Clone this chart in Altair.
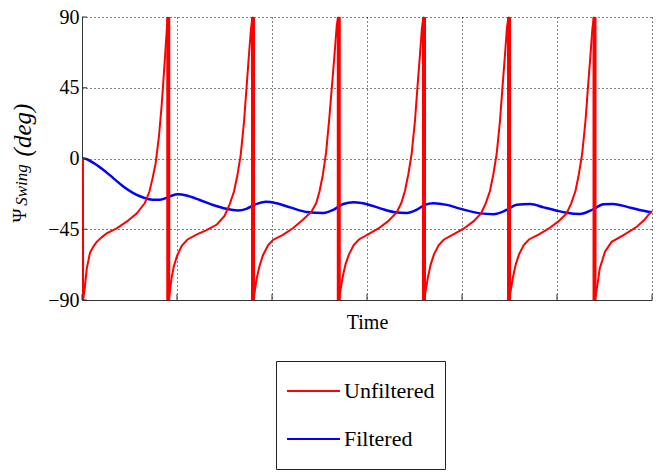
import altair as alt
import pandas as pd

# ---- data ----
red_t = [0.10, 0.12, 0.30, 0.50, 0.84, 1.20, 1.55, 2.10, 2.60, 3.65, 4.70, 5.75, 6.60, 7.10, 7.45, 7.75, 8.10, 8.40, 8.63, 8.85, 9.00, 9.08, 9.08,
         9.20, 9.40, 9.65, 10.00, 10.50, 11.10, 12.10, 13.10, 14.20, 15.00, 15.55, 16.00, 16.35, 16.70, 17.05, 17.32, 17.55, 17.78, 17.92, 18.00, 18.00,
         18.12, 18.40, 18.70, 19.05, 19.60, 20.10, 21.15, 22.20, 23.25, 24.15, 24.65, 25.00, 25.35, 25.70, 26.05, 26.35, 26.58, 26.82, 26.95, 27.03, 27.03,
         27.15, 27.45, 27.75, 28.10, 28.60, 29.15, 30.20, 31.20, 32.20, 33.10, 33.60, 34.00, 34.35, 34.70, 35.05, 35.32, 35.55, 35.78, 35.92, 36.00, 36.00,
         36.12, 36.40, 36.70, 37.05, 37.55, 38.10, 39.10, 40.20, 41.20, 42.00, 42.50, 42.95, 43.30, 43.65, 44.00, 44.27, 44.50, 44.73, 44.87, 44.95, 44.95,
         45.07, 45.35, 45.65, 46.00, 46.50, 47.05, 48.10, 49.15, 50.15, 51.00, 51.50, 51.95, 52.30, 52.65, 53.00, 53.27, 53.50, 53.73, 53.87, 53.95, 53.95,
         54.05, 54.15, 54.50, 55.05, 55.75, 57.00, 58.40, 59.20, 59.60, 60.00]
red_v = [0, -90, -82, -70, -60, -56, -53, -50, -47.6, -44.4, -40.2, -35, -28.5, -21, -12, -3, 14, 35, 55, 75, 88, 90, -90,
         -87, -77, -69, -62, -55.5, -51.5, -48.3, -45.5, -42, -36.5, -29, -21, -11, 2, 23, 45, 64, 82, 89, 90, -90,
         -87, -76, -68, -61.5, -55, -51.8, -48.6, -44.4, -39, -33.8, -28.5, -21, -10.5, 4, 27, 49, 66, 85, 89, 90, -90,
         -86, -75, -67, -61, -55, -51.5, -48, -44.5, -40, -34.5, -28.5, -20.5, -10, 3, 24, 46, 64, 83, 89, 90, -90,
         -86, -76, -67.5, -61, -55, -51.5, -48.2, -44.5, -40, -35, -28.5, -20.5, -10, 3, 24, 46, 64, 83, 89, 90, -90,
         -86, -76, -67.5, -61, -55, -51.5, -48.2, -44.5, -40, -35, -28.5, -20.5, -10, 3, 24, 46, 64, 83, 89, 90, -90,
         -88, -84.7, -70, -59.3, -53, -48.7, -43.4, -39, -36, -33.5]

blue_t = [0, 0.2, 1.2, 2.2, 3.3, 4.35, 5.4, 6.45, 7.4, 8.2, 8.9, 9.5, 10.1, 11.0, 12.4, 13.8, 15.2, 16.4, 17.3, 18.2,
          19.4, 20.5, 21.9, 23.65, 25.4, 26.45, 27.5, 28.6, 30.0, 31.4, 32.8, 34.2, 35.2, 36.1, 37.0, 38.4, 39.8,
          41.9, 43.3, 44.7, 45.75, 47.2, 48.6, 50.0, 51.0, 52.4, 53.8, 54.9, 55.9, 57.3, 58.7, 60.0]
blue_v = [0, 0, -2.8, -7, -12.5, -17.8, -22, -24.8, -26.2, -26.2, -25, -23.5, -22.8, -23.5, -26.4, -29.6, -32, -33, -32, -29.3,
          -27.5, -28.5, -31.1, -34, -34.6, -32.7, -28.9, -27.9, -29.1, -31.7, -34, -34.6, -32.7, -29.5, -28.5, -29.5, -31.9,
          -34.9, -35.4, -32.7, -29.4, -28.9, -31.1, -33.2, -34.5, -35.3, -32.3, -29.1, -28.9, -30.6, -32.7, -34.2]

jump_t = [9.08, 18.00, 27.03, 36.00, 44.95, 53.95]
x_ticks = [0, 10, 20, 30, 40, 50, 60]
y_ticks = [-90, -45, 0, 45, 90]
series = ["Unfiltered", "Filtered"]
colors = ["#ff0000", "#0000ff"]

FONT = "Liberation Serif"

red_df = pd.DataFrame({"t": red_t, "v": red_v, "series": series[0], "idx": range(len(red_t))})
blue_df = pd.DataFrame({"t": blue_t, "v": blue_v, "series": series[1], "idx": range(len(blue_t))})

xscale = alt.Scale(domain=[0, 60], nice=False, zero=False)
yscale = alt.Scale(domain=[-90, 90], nice=False, zero=False)

color = alt.Color(
    "series:N",
    scale=alt.Scale(domain=series, range=colors),
    legend=alt.Legend(
        orient="none", legendX=194, legendY=344, title=None,
        symbolType="stroke", symbolSize=2809, symbolStrokeWidth=2,
        labelFont=FONT, labelFontSize=22, labelColor="black", labelOffset=3, labelLimit=300,
        padding=10, rowPadding=8, clipHeight=40,
        strokeColor="#222", fillColor="white",
    ),
)

xenc = alt.X(
    "t:Q", scale=xscale,
    axis=alt.Axis(values=x_ticks, labels=False, ticks=False, grid=True,
                  gridColor="black", gridDash=[1, 3], gridWidth=1,
                  domainColor="#333", title="Time", titleFont=FONT, titleFontSize=20,
                  titleFontWeight="normal", titleColor="black", titlePadding=12),
)
yenc = alt.Y(
    "v:Q", scale=yscale,
    axis=alt.Axis(values=y_ticks, ticks=False, grid=True,
                  gridColor="black", gridDash=[1, 3], gridWidth=1,
                  domainColor="#333", labelFont=FONT, labelFontSize=20, labelColor="black",
                  labelPadding=3, title=None),
)

blue = alt.Chart(blue_df).mark_line(strokeWidth=2.5, interpolate="monotone").encode(
    x=xenc, y=yenc, color=color, order="idx:Q")
red = alt.Chart(red_df).mark_line(strokeWidth=2).encode(
    x=xenc, y=yenc, color=color, order="idx:Q")

jumps = alt.Chart(pd.DataFrame({"t": jump_t})).mark_rule(color="#ff0000", strokeWidth=4).encode(
    x=alt.X("t:Q", scale=xscale), y=alt.datum(-90), y2=alt.datum(90))

yt = alt.Chart(pd.DataFrame({"v": y_ticks})).mark_rule(color="#333", strokeWidth=1).encode(
    y=alt.Y("v:Q", scale=yscale), x=alt.value(0), x2=alt.value(5))
xt = alt.Chart(pd.DataFrame({"t": x_ticks})).mark_rule(color="#333", strokeWidth=1).encode(
    x=alt.X("t:Q", scale=xscale), y=alt.value(283), y2=alt.value(277))

psi = alt.Chart(pd.DataFrame({"s": ["Ψ"]})).mark_text(
    font=FONT, fontSize=19, angle=270, align="center", baseline="alphabetic", color="black"
).encode(text="s:N", x=alt.value(-56.5), y=alt.value(198.5))
swing = alt.Chart(pd.DataFrame({"s": ["Swing"]})).mark_text(
    font=FONT, fontSize=17, fontStyle="italic", angle=270, align="center", baseline="alphabetic", color="black"
).encode(text="s:N", x=alt.value(-55), y=alt.value(168))
deg = alt.Chart(pd.DataFrame({"s": ["(deg)"]})).mark_text(
    font=FONT, fontSize=25, fontStyle="italic", angle=270, align="center", baseline="alphabetic", color="black"
).encode(text="s:N", x=alt.value(-51.5), y=alt.value(113))

chart = alt.layer(blue, red, jumps, yt, xt, psi, swing, deg).properties(
    width=570, height=283,
    autosize=alt.AutoSizeParams(type="none"),
    padding={"left": 82, "top": 17, "right": 12, "bottom": 176},
).configure_view(stroke=None)

chart.save("out.html", embed_options={"renderer": "svg", "actions": False})
